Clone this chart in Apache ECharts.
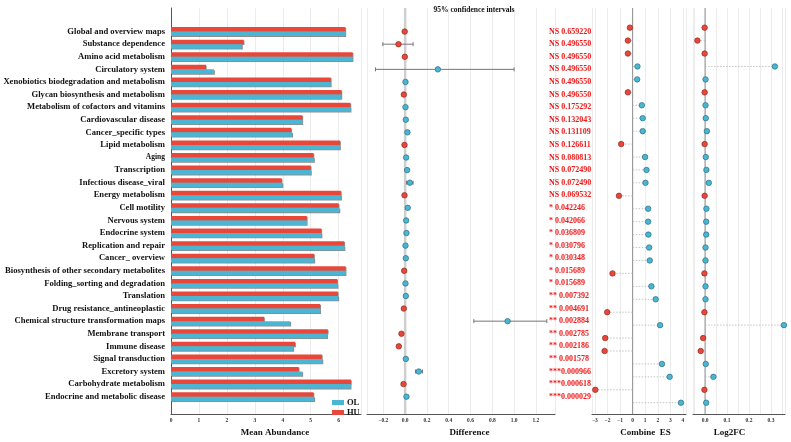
<!DOCTYPE html>
<html lang="en">
<head>
    <meta charset="UTF-8">
    <title>KEGG pathway difference</title>
    <style>
        html, body { margin: 0; padding: 0; background: #fff; }
        #main { width: 791px; height: 442px; }
    </style>
    <script src="https://cdn.jsdelivr.net/npm/echarts@6/dist/echarts.min.js"></script>
</head>
<body>
<div id="main"></div>
<script>
    // pathways, top to bottom
    var categories = ['Global and overview maps', 'Substance dependence', 'Amino acid metabolism', 'Circulatory system',
        'Xenobiotics biodegradation and metabolism', 'Glycan biosynthesis and metabolism', 'Metabolism of cofactors and vitamins',
        'Cardiovascular disease', 'Cancer_specific types', 'Lipid metabolism', 'Aging', 'Transcription', 'Infectious disease_viral',
        'Energy metabolism', 'Cell motility', 'Nervous system', 'Endocrine system', 'Replication and repair', 'Cancer_ overview',
        'Biosynthesis of other secondary metabolites', 'Folding_sorting and degradation', 'Translation',
        'Drug resistance_antineoplastic', 'Chemical structure transformation maps', 'Membrane transport', 'Immune disease',
        'Signal transduction', 'Excretory system', 'Carbohydrate metabolism', 'Endocrine and metabolic disease'];

    var pLabels = ['NS 0.659220', 'NS 0.496550', 'NS 0.496550', 'NS 0.496550', 'NS 0.496550', 'NS 0.496550', 'NS 0.175292',
        'NS 0.132043', 'NS 0.131109', 'NS 0.126611', 'NS 0.080813', 'NS 0.072490', 'NS 0.072490', 'NS 0.069532',
        '* 0.042246', '* 0.042066', '* 0.036809', '* 0.030796', '* 0.030348', '* 0.015689', '* 0.015689',
        '** 0.007392', '** 0.004691', '** 0.002884', '** 0.002785', '** 0.002186', '** 0.001578',
        '***0.000966', '***0.000618', '***0.000029'];

    // mean abundance
    var huValues = [6.24, 2.60, 6.50, 1.25, 5.72, 6.10, 6.42, 4.70, 4.30, 6.05, 5.10, 5.00, 3.96, 6.08, 6.00,
        4.86, 5.38, 6.20, 5.12, 6.25, 5.95, 5.97, 5.34, 3.33, 5.61, 4.44, 5.40, 4.57, 6.44, 5.10];
    var olValues = [6.24, 2.54, 6.50, 1.54, 5.72, 6.10, 6.43, 4.70, 4.34, 6.05, 5.12, 5.01, 3.99, 6.09, 6.03,
        4.86, 5.39, 6.21, 5.13, 6.25, 5.96, 5.99, 5.34, 4.27, 5.59, 4.38, 5.42, 4.70, 6.43, 5.13];

    // difference with 95% CI
    var diffValues = [-0.004, -0.061, -0.003, 0.30, 0.003, -0.012, 0.003, 0.006, 0.021, -0.006, 0.009, 0.018, 0.043, -0.006, 0.024,
        0.009, 0.012, 0.003, 0.006, -0.009, 0.003, 0.006, -0.012, 0.94, -0.034, -0.058, 0.006, 0.125, -0.015, 0.012];
    var ciLow = [-0.012, -0.205, -0.010, -0.272, -0.004, -0.022, -0.004, -0.002, 0.010, -0.014, 0.002, 0.010, 0.012, -0.013, 0.014,
        0.002, 0.004, -0.004, -0.002, -0.017, -0.004, -0.002, -0.020, 0.63, -0.045, -0.072, -0.002, 0.095, -0.023, 0.004];
    var ciHigh = [0.004, 0.073, 0.004, 1.00, 0.010, -0.002, 0.010, 0.014, 0.032, 0.002, 0.016, 0.026, 0.073, 0.001, 0.034,
        0.016, 0.020, 0.010, 0.014, -0.001, 0.010, 0.014, -0.004, 1.30, -0.023, -0.044, 0.014, 0.159, -0.007, 0.020];

    var combineES = [-0.22, -0.38, -0.38, 0.38, 0.36, -0.38, 0.73, 0.80, 0.80, -0.91, 0.99, 1.10, 1.02, -1.09, 1.23,
        1.23, 1.25, 1.31, 1.36, -1.60, 1.49, 1.83, -2.02, 2.18, -2.18, -2.23, 2.33, 2.94, -2.97, 3.84];
    var log2FC = [-0.002, -0.035, -0.002, 0.318, 0.002, -0.002, 0.002, 0.003, 0.008, -0.002, 0.003, 0.006, 0.017, -0.002, 0.006,
        0.005, 0.005, 0.002, 0.002, -0.003, 0.002, 0.002, -0.003, 0.359, -0.009, -0.020, 0.003, 0.038, -0.003, 0.005];

    var RED = '#e8473a', BLUE = '#4ab6d4';
    var RED_DARK = '#8e2a20', BLUE_DARK = '#2a6f80';
    var FONT = "'Liberation Serif', 'Times New Roman', serif";

    var myChart = echarts.init(document.getElementById('main'));

    function minusSign(v) { return String(v).replace('-', '\u2212'); }

    // frame grids (axis lines, split lines) and data grids (rows)
    var grids = [
        {left: 171, top: 8, width: 190, height: 412},
        {left: 171, top: 25.3, width: 190, height: 377.7},
        {left: 367, top: 8, width: 188, height: 412},
        {left: 367, top: 25.3, width: 188, height: 377.7},
        {left: 592, top: 8, width: 94, height: 412},
        {left: 592, top: 21.2, width: 94, height: 388},
        {left: 693, top: 8, width: 92, height: 412},
        {left: 693, top: 21.2, width: 92, height: 388}
    ];

    function frameX(idx, min, max, extra) {
        var ax = {
            type: 'value', gridIndex: idx, min: min, max: max,
            axisLine: {show: true, lineStyle: {color: '#555', width: 1}},
            axisTick: {show: false},
            splitLine: {show: true, lineStyle: {color: '#ececec', width: 1}},
            axisLabel: {fontSize: 5.5, fontWeight: 'bold', fontFamily: FONT, color: '#333', margin: 3,
                showMinLabel: false, showMaxLabel: false, formatter: minusSign},
            nameLocation: 'middle', nameGap: 8,
            nameTextStyle: {fontSize: 9, fontWeight: 'bold', fontFamily: FONT, color: '#111'}
        };
        for (var k in extra) ax[k] = extra[k];
        return ax;
    }
    function dataX(idx, min, max) {
        return {type: 'value', gridIndex: idx, min: min, max: max, show: false};
    }
    function frameY(idx, showLine) {
        return {type: 'value', gridIndex: idx, min: 0, max: 1, axisLabel: {show: false}, axisTick: {show: false},
            splitLine: {show: false}, axisLine: {show: showLine, lineStyle: {color: '#555'}}};
    }
    function dataY(idx, showLabels) {
        return {
            type: 'category', gridIndex: idx, data: categories, inverse: true,
            axisLine: {show: false}, axisTick: {show: false}, splitLine: {show: false},
            axisLabel: {
                show: showLabels, margin: 6, fontSize: 8.6, fontWeight: 'bold', fontFamily: FONT, color: '#111',
                formatter: function (v) { return v === 'Aging' ? '{s|' + v + '}' : v; },
                rich: {s: {fontSize: 7.5, fontWeight: 'bold', fontFamily: FONT, color: '#111'}}
            }
        };
    }

    var xAxes = [
        frameX(0, 0, 6.8, {interval: 1, name: 'Mean Abundance', nameTextStyle: {fontSize: 9, fontWeight: 'bold', fontFamily: FONT, color: '#111', padding: [0, 0, 0, 18]}}),
        dataX(1, 0, 6.8),
        frameX(2, -0.35, 1.375, {splitNumber: 8, name: 'Difference', nameTextStyle: {fontSize: 9, fontWeight: 'bold', fontFamily: FONT, color: '#111', padding: [0, 0, 0, 17]}}),
        dataX(3, -0.35, 1.375),
        frameX(4, -3.23, 4.24, {splitNumber: 7, name: 'Combine  ES', nameTextStyle: {fontSize: 9, fontWeight: 'bold', fontFamily: FONT, color: '#111', padding: [0, 0, 0, 13]}}),
        dataX(5, -3.23, 4.24),
        frameX(6, -0.055, 0.364, {splitNumber: 8, name: 'Log2FC', nameTextStyle: {fontSize: 9, fontWeight: 'bold', fontFamily: FONT, color: '#111', padding: [0, 19, 0, 0]}}),
        dataX(7, -0.055, 0.364)
    ];
    xAxes[0].axisLabel.showMinLabel = true;
    xAxes[6].axisLabel.formatter = function (v) {
        return Math.abs(v * 10 - Math.round(v * 10)) < 1e-6 ? v.toFixed(1) : '';
    };
    xAxes[4].axisLabel.formatter = function (v) { return minusSign(Math.round(v)); };
    xAxes[2].axisLabel.formatter = function (v) { return minusSign(v.toFixed(1)); };

    var yAxes = [frameY(0, true), dataY(1, true), frameY(2, false), dataY(3, false),
        frameY(4, false), dataY(5, false), frameY(6, false), dataY(7, false)];

    function groupColor(i) { return diffValues[i] < 0 ? RED : BLUE; }
    function groupBorder(i) { return diffValues[i] < 0 ? RED_DARK : BLUE_DARK; }

    function pointData(values) {
        return values.map(function (v, i) {
            return {value: [v, i], itemStyle: {color: groupColor(i), borderColor: groupBorder(i)}};
        });
    }

    // vertical zero line drawn across a frame grid
    function zeroLine(axisIdx, color, width) {
        return {
            type: 'custom', xAxisIndex: axisIdx, yAxisIndex: axisIdx, silent: true, z: 1,
            data: [[0, 0]],
            renderItem: function (params, api) {
                var a = api.coord([0, 0]), b = api.coord([0, 1]);
                return {type: 'line', shape: {x1: a[0], y1: a[1], x2: b[0], y2: b[1]},
                    style: {stroke: color, lineWidth: width}};
            }
        };
    }

    // dotted stem from 0 to the value
    function stems(axisIdx, values) {
        return {
            type: 'custom', xAxisIndex: axisIdx, yAxisIndex: axisIdx, silent: true, z: 2,
            data: values.map(function (v, i) { return [v, i]; }),
            encode: {x: 0, y: 1},
            renderItem: function (params, api) {
                var a = api.coord([0, api.value(1)]), b = api.coord([api.value(0), api.value(1)]);
                return {type: 'line', shape: {x1: a[0], y1: a[1], x2: b[0], y2: b[1]},
                    style: {stroke: '#b5b5b5', lineWidth: 0.8, lineDash: [1.5, 1.5]}};
            }
        };
    }

    function points(axisIdx, values) {
        return {
            type: 'scatter', xAxisIndex: axisIdx, yAxisIndex: axisIdx, z: 5,
            symbolSize: 5.5, itemStyle: {borderWidth: 0.7, opacity: 1},
            data: pointData(values)
        };
    }

    var barShadow = {shadowColor: 'rgba(50,50,50,0.55)', shadowBlur: 0, shadowOffsetX: 0.8, shadowOffsetY: 0.8};

    var option = {
        animation: false,
        backgroundColor: '#fff',
        title: {
            text: '95% confidence intervals', left: 469, top: 1, textAlign: 'center',
            textStyle: {fontSize: 7.5, fontWeight: 'bold', fontFamily: FONT, color: '#111'}
        },
        legend: {
            data: ['OL', 'HU'], orient: 'vertical', left: 327, top: 393,
            itemWidth: 12, itemHeight: 5, itemGap: 1, icon: 'rect',
            textStyle: {fontSize: 8.5, fontWeight: 'bold', fontFamily: FONT, color: '#111', padding: [0, 0, 0, -2]}
        },
        grid: grids,
        xAxis: xAxes,
        yAxis: yAxes,
        series: [
            {
                name: 'HU', type: 'bar', xAxisIndex: 1, yAxisIndex: 1, data: huValues,
                barWidth: 4.5, barGap: '0%', itemStyle: Object.assign({color: RED}, barShadow)
            },
            {
                name: 'OL', type: 'bar', xAxisIndex: 1, yAxisIndex: 1, data: olValues,
                barWidth: 4.5, barGap: '0%', itemStyle: Object.assign({color: BLUE}, barShadow)
            },
            zeroLine(2, '#cfcfcf', 2.5),
            {
                // 95% CI error bars
                type: 'custom', xAxisIndex: 3, yAxisIndex: 3, silent: true, z: 3,
                data: ciLow.map(function (lo, i) { return [i, lo, ciHigh[i]]; }),
                encode: {x: [1, 2], y: 0},
                renderItem: function (params, api) {
                    var i = api.value(0);
                    var lo = api.coord([api.value(1), i]), hi = api.coord([api.value(2), i]);
                    var cap = 2, st = {stroke: '#777', lineWidth: 1};
                    return {
                        type: 'group', children: [
                            {type: 'line', shape: {x1: lo[0], y1: lo[1], x2: hi[0], y2: hi[1]}, style: st},
                            {type: 'line', shape: {x1: lo[0], y1: lo[1] - cap, x2: lo[0], y2: lo[1] + cap}, style: st},
                            {type: 'line', shape: {x1: hi[0], y1: hi[1] - cap, x2: hi[0], y2: hi[1] + cap}, style: st}
                        ]
                    };
                }
            },
            points(3, diffValues),
            {
                // p-value column
                type: 'custom', xAxisIndex: 3, yAxisIndex: 3, silent: true, z: 6,
                data: pLabels.map(function (t, i) { return [1.32, i]; }),
                encode: {x: 0, y: 1},
                renderItem: function (params, api) {
                    var p = api.coord([api.value(0), api.value(1)]);
                    return {
                        type: 'text', x: p[0], y: p[1],
                        style: {text: pLabels[params.dataIndex], fill: '#f01818', font: 'bold 8px ' + FONT,
                            textAlign: 'left', textVerticalAlign: 'middle'}
                    };
                }
            },
            zeroLine(4, '#8c8c8c', 1),
            stems(5, combineES),
            points(5, combineES),
            zeroLine(6, '#8c8c8c', 1),
            stems(7, log2FC),
            points(7, log2FC)
        ]
    };

    option && myChart.setOption(option);
</script>
</body>
</html>
